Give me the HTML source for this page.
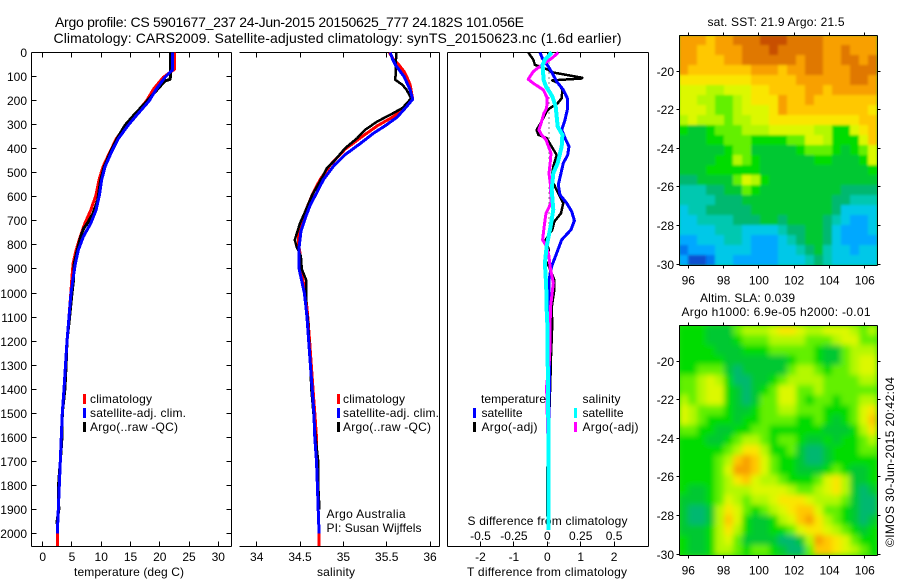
<!DOCTYPE html>
<html lang="en">
<head>
<meta charset="utf-8">
<title>Argo profile 5901677_237</title>
<style>
html,body{margin:0;padding:0;background:#fff;}
svg{display:block;}
text{font-family:"Liberation Sans",sans-serif;font-size:12px;fill:#000;}
.title{font-size:14px;}
</style>
</head>
<body>
<svg id="chart" xmlns="http://www.w3.org/2000/svg" width="900" height="580" viewBox="0 0 900 580">
  <defs>
    <clipPath id="clip-sst"><rect x="679" y="35" width="198" height="230"/></clipPath>
    <clipPath id="clip-sla"><rect x="679" y="325" width="198" height="230"/></clipPath>
    <filter id="soft-sla" x="-5%" y="-5%" width="110%" height="110%"><feGaussianBlur stdDeviation="3"/></filter>
    <filter id="soft-sst" x="-5%" y="-5%" width="110%" height="110%"><feGaussianBlur stdDeviation="1.3"/></filter>
  </defs>
  <rect x="0" y="0" width="900" height="580" fill="#fff"/>

  <text class="title" x="55" y="27" textLength="469">Argo profile: CS 5901677_237 24-Jun-2015 20150625_777 24.182S 101.056E</text>
  <text class="title" x="53.5" y="43" textLength="568">Climatology: CARS2009. Satellite-adjusted climatology: synTS_20150623.nc (1.6d earlier)</text>

  <g id="axes-layer"></g>

  <text x="74" y="576" textLength="110">temperature (deg C)</text>
  <text x="317" y="576" textLength="38">salinity</text>
  <text x="467" y="576" textLength="160">T difference from climatology</text>
  <text x="467.5" y="525" textLength="160">S difference from climatology</text>

  <text x="90" y="403" textLength="62">climatology</text>
  <text x="90" y="417" textLength="96">satellite-adj. clim.</text>
  <text x="90" y="431" textLength="88">Argo(..raw -QC)</text>
  <rect x="83" y="394" width="3" height="10" fill="#f00"/>
  <rect x="83" y="408" width="3" height="10" fill="#00f"/>
  <rect x="83" y="422" width="3" height="10" fill="#000"/>

  <text x="343" y="403" textLength="62">climatology</text>
  <text x="343" y="417" textLength="96">satellite-adj. clim.</text>
  <text x="343" y="431" textLength="88">Argo(..raw -QC)</text>
  <rect x="337" y="394" width="3" height="10" fill="#f00"/>
  <rect x="337" y="408" width="3" height="10" fill="#00f"/>
  <rect x="337" y="422" width="3" height="10" fill="#000"/>

  <text x="326.5" y="518" textLength="79">Argo Australia</text>
  <text x="326.5" y="532" textLength="95">PI: Susan Wijffels</text>

  <text x="481" y="403" textLength="65">temperature</text>
  <text x="582.5" y="403" textLength="38">salinity</text>
  <text x="481.5" y="417" textLength="41">satellite</text>
  <text x="481.5" y="431" textLength="56">Argo(-adj)</text>
  <text x="582.5" y="417" textLength="41">satellite</text>
  <text x="582.5" y="431" textLength="56">Argo(-adj)</text>
  <rect x="473" y="408" width="3" height="10" fill="#00f"/>
  <rect x="473" y="422" width="3" height="10" fill="#000"/>
  <rect x="574" y="408" width="3" height="10" fill="#0ff"/>
  <rect x="574" y="422" width="3" height="10" fill="#f0f"/>

  <g id="series-layer"></g>

  <text x="707.5" y="26" textLength="137">sat. SST: 21.9 Argo: 21.5</text>
  <text x="700" y="302" textLength="95">Altim. SLA: 0.039</text>
  <text x="681.5" y="316" textLength="189">Argo h1000: 6.9e-05 h2000: -0.01</text>
  <text transform="translate(894,547) rotate(-90)" x="0" y="0" textLength="170">©IMOS 30-Jun-2015 20:42:04</text>

  <g id="map-layer"></g>
</svg>
<script>
// Axis tick labels
const depthTicks = [0,100,200,300,400,500,600,700,800,900,1000,1100,1200,1300,1400,1500,1600,1700,1800,1900,2000];
const tempTicks = [0,5,10,15,20,25,30];
const salTicks = [34,34.5,35,35.5,36];
const tDiffTicks = [-2,-1,0,1,2];
const sDiffTicks = [-0.5,-0.25,0,0.25,0.5];
const lonTicks = [96,98,100,102,104,106];
const latTicks = [-20,-22,-24,-26,-28,-30];

// Temperature panel
const climTempDepths = [0,70,103,150,202,260,302,358,413,475,531,593,656,711,766,822,877,933,1002,1100,1200,1300,1400,1500,1600,1700,1800,1900,2000,2052];
const climTemp = [22.5,22.5,20.6,19.0,17.7,15.7,14.3,12.6,11.5,10.3,9.6,9.1,8.2,7.2,6.4,5.7,5.2,5.0,4.8,4.5,4.15,3.9,3.64,3.35,3.18,3.0,2.84,2.67,2.5,2.5];
const satTempDepths = [0,73,103,150,202,261,302,358,413,475,531,593,656,711,766,822,877,933,1002,1100,1200,1300,1400,1500,1600,1700,1800,1900,2000];
const satTemp = [22.15,22.15,20.9,19.47,18.16,16.05,14.63,12.92,11.78,10.64,10.07,9.68,9.1,8.2,6.94,6.09,5.58,5.23,4.83,4.5,4.15,3.9,3.64,3.35,3.18,3.0,2.84,2.67,2.5];
const argoTempDepths = [0,94,112,118,200,260,302,350,413,475,531,614,669,711,732,766,822,877,950,1000,1100,1200,1300,1400,1500,1600,1700,1800,1900,1960];
const argoTemp = [21.87,21.87,21.75,20.9,17.9,15.6,14.1,12.9,11.6,10.5,9.9,9.4,8.6,7.6,7.0,6.5,5.9,5.4,5.25,5.0,4.6,4.15,4.0,3.8,3.35,3.3,3.0,2.7,2.75,2.4];

// Salinity panel
const climSalDepths = [0,30,51,79,100,134,194,225,266,305,349,402,467,529,592,654,710,765,801,834,901,1001,1063,1100,1200,1300,1400,1500,1600,1700,1800,1900,2000,2052];
const climSal = [35.53,35.58,35.64,35.7,35.73,35.77,35.8,35.71,35.58,35.39,35.22,35.02,34.85,34.73,34.64,34.57,34.515,34.485,34.485,34.5,34.51,34.56,34.58,34.59,34.61,34.63,34.65,34.67,34.69,34.69,34.71,34.71,34.72,34.72];
const satSalDepths = [0,30,51,100,155,194,225,269,305,335,377,425,471,529,585,633,689,744,807,901,1001,1063,1100,1200,1300,1400,1500,1600,1700,1800,1900,2000];
const satSal = [35.54,35.57,35.6,35.7,35.77,35.8,35.73,35.62,35.48,35.35,35.2,35.02,34.89,34.77,34.69,34.62,34.56,34.51,34.49,34.49,34.55,34.57,34.58,34.6,34.62,34.64,34.66,34.67,34.69,34.7,34.71,34.72];
const argoSalDepths = [0,114,134,155,190,204,231,259,287,322,356,398,444,481,536,592,661,710,779,807,848,901,945,1001,1063,1100,1300,1400,1600,1700,1800,1900];
const argoSal = [35.61,35.6,35.68,35.73,35.78,35.75,35.68,35.54,35.39,35.25,35.16,35.02,34.91,34.81,34.73,34.64,34.56,34.5,34.44,34.46,34.51,34.52,34.57,34.57,34.57,34.59,34.62,34.63,34.68,34.71,34.71,34.725];

// Difference panel
const argoTDiffDepths = [0,30,51,72,82,105,108,116,128,155,190,211,231,245,287,322,342,356,391,426,474,502,543,585,626,668,703,737,779,821,862,890,945,987,1063,1126,1264,1375,1500,1583,1700,1735,1930];
const argoTDiff = [-0.57,-0.42,-0.37,0.03,0.13,1.05,1.03,0.15,0.33,0.45,0.43,0.31,0.08,-0.02,-0.17,-0.32,-0.27,-0.02,0.13,0.28,0.18,0.15,0.18,0.33,0.48,0.41,0.21,0.15,-0.05,0.05,-0.07,0.05,0.21,0.21,0.13,0.15,0.11,0.09,0.06,0.03,0.03,-0.01,-0.01];
const satTDiffDepths = [0,24,58,86,121,155,190,231,280,322,356,391,426,460,502,550,592,626,661,699,737,779,834,890,945,1063,1126,1400,1540,1950];
const satTDiff = [-0.22,-0.15,0.03,0.15,0.28,0.48,0.6,0.61,0.53,0.43,0.53,0.65,0.61,0.48,0.41,0.33,0.38,0.58,0.73,0.81,0.71,0.43,0.28,0.13,0.05,0.05,0.08,0.06,0.05,0.02];
const argoSDiffDepths = [0,24,58,79,111,128,155,190,231,252,287,322,342,363,419,467,502,557,626,668,723,779,807,848,890,959,1063,1264,1389,1514,1763,1957];
const argoSDiff = [0.083,0.033,-0.055,-0.105,-0.143,-0.105,-0.03,0,-0.005,-0.025,-0.043,-0.063,-0.043,-0.01,0.028,0.02,0.013,0.025,0.028,-0.01,-0.023,-0.035,-0.005,0.013,0.02,0.045,0.023,0.018,-0.005,0.0,0.012,0.012];
const satSDiffDepths = [0,30,51,114,141,183,225,308,342,391,460,502,571,654,737,807,876,973,1063,1126,1400,1680,1985];
const satSDiff = [0.033,-0.018,-0.035,-0.028,-0.01,0.038,0.063,0.078,0.113,0.108,0.078,0.045,0.033,0.045,0.02,-0.005,-0.018,-0.008,-0.005,0,0.005,0.01,0.01];

// Map colour levels (index into mapPalette), north to south, west to east
const mapPalette = ['#0a50d0','#0078f0','#00a8ff','#00c8e8','#00c8b0','#00b870','#00c830','#00dc00','#64f000','#b4f800','#dcf800','#fae600','#ffc800','#f8a000','#e07800','#c85000'];
const sstLevels = [
[13,13,13,12,13,13,14,14,14,15,15,15,14,14,14,14,13,13,13,13,13,13],
[13,13,12,12,13,13,13,14,14,14,15,14,14,14,14,14,13,13,14,13,13,13],
[13,13,12,12,12,13,13,14,14,14,14,14,14,13,14,14,13,13,14,14,13,14],
[13,12,12,12,12,12,12,12,13,13,13,12,13,13,14,14,13,13,13,14,14,14],
[11,11,11,11,11,11,11,11,12,12,12,12,12,13,13,13,13,13,13,14,14,13],
[10,10,10,9,9,10,10,10,11,11,12,12,12,12,13,13,12,13,13,13,13,13],
[10,10,9,9,8,8,9,10,11,11,11,13,12,12,13,12,12,12,12,12,12,12],
[10,10,10,9,8,8,9,10,10,10,11,13,12,12,12,12,12,12,12,12,12,11],
[9,10,9,9,9,8,9,9,10,10,11,11,11,11,11,11,11,11,11,11,12,12],
[7,6,6,7,8,8,8,9,9,9,10,10,10,10,10,9,9,7,7,10,11,12],
[6,6,6,7,7,8,8,8,7,7,7,7,8,8,10,10,9,7,7,7,10,12],
[6,6,6,6,6,7,8,8,6,6,6,6,6,7,8,8,8,7,6,7,8,10],
[6,6,6,6,7,7,9,8,7,6,6,6,6,6,6,7,7,6,6,6,7,10],
[6,6,6,7,7,7,7,7,7,6,6,6,6,6,6,6,6,6,6,6,6,7],
[5,5,6,6,6,6,8,10,9,7,6,6,6,6,6,6,6,6,6,6,6,6],
[4,4,4,5,5,6,6,8,7,6,6,6,6,6,6,6,6,6,5,5,5,5],
[4,4,4,4,5,5,5,6,6,6,6,6,6,6,6,6,6,5,5,4,4,4],
[3,4,4,5,5,5,5,5,6,6,6,6,6,6,6,6,6,5,3,3,3,3],
[3,3,4,4,4,4,5,5,5,6,6,5,6,6,6,6,5,4,3,2,2,3],
[3,3,3,3,4,4,4,3,3,3,3,4,5,5,6,6,5,3,2,2,2,3],
[2,2,3,3,3,4,4,3,2,2,2,3,4,5,6,6,5,3,2,2,2,2],
[1,2,2,2,3,3,3,3,2,2,2,3,3,4,5,6,4,3,3,2,3,3],
[2,0,0,1,3,3,2,2,2,2,2,3,3,3,4,5,4,3,3,3,3,3]
];
const slaLevels = [
[7,7,7,6,6,6,8,9,9,9,10,11,11,10,9,9,10,10,10,9,8,9],
[7,7,7,6,6,6,7,8,8,8,9,9,9,9,8,8,8,9,10,10,8,8],
[7,7,7,7,6,6,6,7,7,7,8,8,8,8,8,7,6,6,8,9,9,9],
[7,7,7,7,7,6,6,6,6,6,6,6,7,8,8,7,6,6,8,9,10,10],
[7,7,8,8,8,6,5,6,6,6,6,6,8,9,9,8,7,8,8,9,10,10],
[8,8,9,10,9,7,5,5,6,6,7,8,9,9,9,9,8,8,8,8,9,9],
[8,8,9,10,10,7,6,5,6,7,8,10,10,8,8,9,8,8,8,8,8,8],
[9,8,9,10,10,7,6,5,6,8,8,10,10,8,7,8,8,7,8,8,9,9],
[10,9,8,8,8,7,6,6,7,8,8,9,9,8,8,8,7,7,7,8,10,11],
[10,9,8,7,7,7,6,7,7,8,8,8,8,7,7,8,7,6,7,8,10,12],
[8,8,7,7,6,6,7,7,8,8,7,7,7,7,7,7,6,6,6,7,9,11],
[7,7,7,6,6,7,8,9,9,8,7,8,8,7,6,6,7,6,7,7,8,9],
[7,7,7,7,7,8,9,11,11,9,7,7,8,6,5,5,6,7,7,7,8,8],
[7,7,7,7,8,9,12,13,12,10,8,7,7,6,5,5,6,7,7,7,7,7],
[7,7,7,7,8,10,13,13,12,10,8,7,7,6,6,6,7,8,7,6,6,7],
[7,7,7,7,8,9,11,12,10,9,9,8,7,7,7,8,10,11,9,6,6,7],
[7,6,6,7,8,9,9,9,10,10,10,10,9,8,8,9,10,11,9,6,5,6],
[6,6,6,7,8,10,9,8,9,9,10,11,11,11,10,9,9,9,8,6,5,5],
[6,5,5,6,9,11,10,8,7,8,9,10,11,12,12,10,8,8,7,6,5,5],
[6,5,5,6,9,12,10,7,6,6,7,9,10,12,13,11,9,8,7,6,5,6],
[6,6,6,7,9,11,9,7,6,6,7,7,8,10,11,11,10,9,8,7,6,7],
[7,6,6,7,9,10,8,6,6,6,6,5,5,6,9,13,12,11,10,8,7,7],
[7,6,6,7,9,9,8,7,8,8,7,6,5,5,8,12,12,11,10,9,8,7]
];

const NS = 'http://www.w3.org/2000/svg';
const axesLayer = document.getElementById('axes-layer');
const seriesLayer = document.getElementById('series-layer');
const mapLayer = document.getElementById('map-layer');

const yDepth = d => 52.5 + 0.2405 * d;
const xTemp = v => 42.7 + 5.853 * v;
const xSal = v => 256.7 + 86.67 * (v - 34);
const xTDiff = v => 547.3 + 33.4 * v;
const xSDiff = v => 547.3 + 133.6 * v;
const xLon = v => 688.3 + 17.65 * (v - 96);
const ySstLat = v => 71 + 19.33 * (-v - 20);
const ySlaLat = v => 361 + 19.33 * (-v - 20);

function create(tag, parent, props) {
  const node = document.createElementNS(NS, tag);
  for (const key in props) node.setAttribute(key, props[key]);
  parent.appendChild(node);
  return node;
}
function hLine(parent, x1, x2, y, name) {
  const el = create('line', parent, {x1: x1, x2: x2, y1: y, y2: y, stroke: '#000', 'stroke-width': 1, 'shape-rendering': 'crispEdges'});
  
  
}
function vLine(parent, x, y1, y2, name) {
  const el = create('line', parent, {x1: x, x2: x, y1: y1, y2: y2, stroke: '#000', 'stroke-width': 1, 'shape-rendering': 'crispEdges'});
  
  
}
function label(parent, x, y, anchor, content, name) {
  const el = create('text', parent, {x: x, y: y, 'text-anchor': anchor});
  el.textContent = content;
  
  
}
function snap(v) { return Math.round(v - 0.5) + 0.5; }

function profilePanel(key, left, right, ticks, xScale, hasLeftAxis) {
  const top = 52.5, bottom = 546.5;
  hLine(axesLayer, left, right, top, key + '-top-axis');
  hLine(axesLayer, left, right, bottom, key + '-bottom-axis');
  vLine(axesLayer, right, top, bottom, key + '-right-axis');
  if (hasLeftAxis) vLine(axesLayer, left, top, bottom, key + '-left-axis');
  ticks.forEach(t => {
    const x = snap(xScale(t));
    vLine(axesLayer, x, top, top + 5, key + '-top-tick');
    vLine(axesLayer, x, bottom - 5, bottom, key + '-bottom-tick');
  });
}
function drawSeries(depths, values, xScale, color, name, width) {
  const pts = depths.map((d, i) => xScale(values[i]).toFixed(1) + ',' + yDepth(d).toFixed(1)).join(' ');
  const el = create('polyline', seriesLayer, {points: pts, fill: 'none', stroke: color, 'stroke-width': width, 'stroke-linejoin': 'round', 'shape-rendering': 'crispEdges'});
  
  
}

// Temperature axes
profilePanel('temperature', 31.5, 231.5, tempTicks, xTemp, true);
tempTicks.forEach(t => label(axesLayer, xTemp(t), 561, 'middle', String(t), 'temperature-tick-label'));
depthTicks.forEach(d => {
  const y = snap(yDepth(d));
  hLine(axesLayer, 31.5, 36.5, y, 'depth-left-tick');
  hLine(axesLayer, 226.5, 231.5, y, 'depth-right-tick');
  label(axesLayer, 27, y + 4.5, 'end', String(d), 'depth-tick-label');
});

// Salinity axes
profilePanel('salinity', 239.5, 439.5, salTicks, xSal, false);
salTicks.forEach(t => label(axesLayer, xSal(t), 561, 'middle', String(t), 'salinity-tick-label'));

// Difference axes
profilePanel('difference', 447.5, 648.5, tDiffTicks, xTDiff, true);
tDiffTicks.forEach(t => label(axesLayer, xTDiff(t), 561, 'middle', String(t), 't-difference-tick-label'));
sDiffTicks.forEach(t => label(axesLayer, xSDiff(t), 540, 'middle', String(t), 's-difference-tick-label'));
const zeroLine = create('line', axesLayer, {x1: 549, x2: 549, y1: 52.5, y2: 546, stroke: '#000', 'stroke-width': 1, 'stroke-dasharray': '1 4', 'shape-rendering': 'crispEdges'});



// Profile series
drawSeries(climTempDepths, climTemp, xTemp, '#f00', 'temperature-climatology-line', 3);
drawSeries(argoTempDepths, argoTemp, xTemp, '#000', 'temperature-argo-line', 3);
drawSeries(satTempDepths, satTemp, xTemp, '#00f', 'temperature-satellite-line', 3);
drawSeries(climSalDepths, climSal, xSal, '#f00', 'salinity-climatology-line', 3);
drawSeries(argoSalDepths, argoSal, xSal, '#000', 'salinity-argo-line', 2.5);
drawSeries(satSalDepths, satSal, xSal, '#00f', 'salinity-satellite-line', 3);
drawSeries(argoTDiffDepths, argoTDiff, xTDiff, '#000', 't-difference-argo-line', 2.5);
drawSeries(satTDiffDepths, satTDiff, xTDiff, '#00f', 't-difference-satellite-line', 3);
drawSeries(argoSDiffDepths, argoSDiff, xSDiff, '#f0f', 's-difference-argo-line', 3);
drawSeries(satSDiffDepths, satSDiff, xSDiff, '#0ff', 's-difference-satellite-line', 4);

// Maps
function drawMap(key, levels, top, yScale, clipId, filterId, backing) {
  const left = 679, width = 198, height = 230;
  const clip = create('g', mapLayer, {'clip-path': 'url(#' + clipId + ')'});
  
  
  const base = create('rect', clip, {x: left, y: top, width: width, height: height, fill: backing});
  
  
  const cells = create('g', clip, {filter: 'url(#' + filterId + ')'});
  
  
  const rows = levels.length, cols = levels[0].length;
  const cw = width / cols, ch = height / rows;
  levels.forEach((row, r) => row.forEach((level, c) => {
    const cell = create('rect', cells, {x: left + c * cw, y: top + r * ch, width: cw + 0.5, height: ch + 0.5, fill: mapPalette[level]});
    
    
  }));
  const l = left + 0.5, rt = left + width + 0.5, t = top + 0.5, b = top + height + 0.5;
  hLine(mapLayer, l, rt, t, key + '-map-top-axis');
  hLine(mapLayer, l, rt, b, key + '-map-bottom-axis');
  vLine(mapLayer, l, t, b, key + '-map-left-axis');
  vLine(mapLayer, rt, t, b, key + '-map-right-axis');
  lonTicks.forEach(v => {
    const x = snap(xLon(v));
    vLine(mapLayer, x, t - 3, t, key + '-map-top-tick');
    vLine(mapLayer, x, b, b + 3, key + '-map-bottom-tick');
    label(mapLayer, xLon(v), b + 19, 'middle', String(v), key + '-map-longitude-label');
  });
  latTicks.forEach(v => {
    const y = snap(yScale(v));
    hLine(mapLayer, l - 3, l, y, key + '-map-left-tick');
    hLine(mapLayer, rt, rt + 3, y, key + '-map-right-tick');
    label(mapLayer, 674, y + 4.5, 'end', String(v), key + '-map-latitude-label');
  });
}
drawMap('sst', sstLevels, 35, ySstLat, 'clip-sst', 'soft-sst', '#00c830');
drawMap('sla', slaLevels, 325, ySlaLat, 'clip-sla', 'soft-sla', '#30d818');
</script>
</body>
</html>
